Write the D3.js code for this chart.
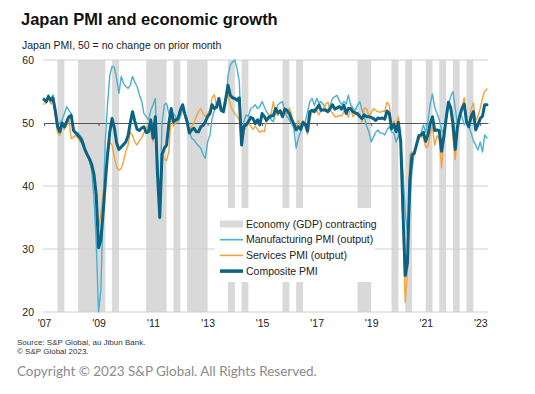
<!DOCTYPE html>
<html>
<head>
<meta charset="utf-8">
<script src="https://cdn.jsdelivr.net/npm/d3@7"></script>
<style>
  body { margin: 0; background: #fff; }
  svg text { font-family: "Liberation Sans", Arial, sans-serif; }
</style>
</head>
<body>
<div id="chart"></div>
<script>
// Monthly PMI readings, Jan 2007 .. Apr 2023
const startMonth = new Date(2007, 0, 1);

const composite = [
  53.7, 53.4, 54.2, 53.6, 54.0, 52.0, 49.5, 48.6, 50.0, 49.4, 50.2, 51.0,
  51.2, 48.8, 48.4, 48.0, 47.6, 46.9, 45.8, 45.0, 44.3, 43.4, 41.8, 38.5,
  30.2, 31.5, 35.5, 40.5, 45.0, 48.6, 50.7, 49.2, 46.8, 45.8, 46.2, 46.6,
  47.0, 48.0, 50.0, 51.8, 50.3, 49.0, 48.8, 49.2, 49.4, 48.5, 48.6, 50.5,
  47.6, 51.0, 42.0, 35.0, 45.0, 46.0, 46.5, 50.0, 52.3, 50.2, 50.5, 50.7,
  52.0, 52.9, 51.5, 50.2, 48.4, 48.9, 49.2, 48.6, 48.6, 49.4, 49.6, 50.2,
  51.0, 51.5, 52.9, 52.3, 52.5, 53.9, 52.0, 51.8, 53.9, 56.0, 54.4, 54.0,
  53.9, 53.6, 54.0, 46.5, 49.5, 49.7, 50.2, 50.9, 50.7, 49.9, 50.5, 49.7,
  51.5, 51.0, 50.4, 50.9, 51.1, 51.2, 52.3, 51.6, 51.9, 51.0, 52.2, 52.0,
  51.5, 50.5, 49.9, 48.9, 49.4, 49.0, 50.1, 49.8, 48.7, 51.8, 52.0, 51.8,
  52.3, 52.9, 52.0, 52.1, 52.0, 51.8, 52.3, 52.9, 52.2, 52.4, 52.6, 52.2,
  52.8, 51.5, 52.3, 52.3, 51.8, 51.6, 51.5, 51.0, 50.7, 51.3, 51.0, 51.0,
  50.9, 50.7, 50.4, 50.8, 50.7, 50.8, 50.6, 51.9, 51.5, 49.1, 49.8, 48.6,
  50.1, 47.0, 36.2, 25.8, 27.8, 40.8, 44.9, 45.2, 46.6, 48.0, 48.1, 48.5,
  47.1, 48.2, 49.9, 51.0, 48.8, 48.9, 48.8, 45.5, 47.9, 50.7, 53.3, 52.5,
  49.9, 45.8, 49.3, 51.1, 52.3, 53.0, 50.2, 49.4, 51.0, 51.8, 48.9, 49.7,
  50.7, 51.1, 52.9, 52.9
];

const services = [
  53.0, 53.2, 54.0, 53.0, 53.5, 51.0, 48.5, 48.0, 49.5, 49.0, 49.6, 50.5,
  47.5, 47.8, 48.0, 47.6, 47.0, 46.6, 45.5, 44.8, 44.0, 43.0, 41.5, 38.0,
  33.5, 35.5, 38.5, 41.5, 44.5, 47.0, 46.5, 44.5, 43.0, 42.5, 42.8, 43.9,
  45.5, 46.5, 48.6, 48.0, 47.0, 46.5, 47.2, 47.6, 48.5, 49.2, 49.7, 48.8,
  47.0, 50.5, 42.0, 35.5, 45.0, 44.3, 44.0, 45.5, 51.5, 49.5, 50.0, 50.5,
  51.5, 52.5, 51.0, 50.0, 49.0, 49.5, 50.0, 51.0, 51.8, 52.3, 51.5, 51.0,
  51.5, 52.0, 54.0, 54.5, 52.5, 53.5, 52.0, 52.0, 53.0, 54.7, 53.0, 52.0,
  51.5, 51.0, 50.5, 46.4, 48.5, 49.5, 50.0, 49.5, 49.0, 49.5, 49.0, 48.5,
  48.8, 48.6, 50.5, 51.3, 51.5, 53.4, 51.5, 51.2, 52.2, 51.0, 52.0, 51.5,
  52.4, 51.2, 50.0, 49.3, 50.4, 49.4, 50.4, 49.6, 48.2, 50.5, 51.8, 52.3,
  51.9, 51.3, 52.0, 52.2, 53.0, 53.3, 52.0, 51.6, 51.0, 51.0, 51.2, 51.1,
  51.9, 51.7, 50.9, 52.5, 51.0, 51.4, 51.3, 51.5, 50.2, 52.4, 52.3, 51.0,
  51.6, 52.3, 52.0, 51.8, 51.7, 51.9, 51.8, 53.3, 52.8, 49.7, 50.3, 49.4,
  51.0, 46.8, 33.8, 21.5, 26.5, 45.0, 45.4, 45.0, 46.9, 47.7, 47.8, 47.7,
  46.1, 46.3, 48.3, 49.5, 46.5, 48.0, 47.4, 42.9, 47.8, 50.7, 53.0, 52.1,
  47.6, 44.2, 49.4, 50.7, 52.6, 54.0, 50.3, 49.5, 52.2, 53.2, 50.3, 51.1,
  52.3, 54.0, 55.0, 55.4
];

const manufacturing = [
  54.0, 53.5, 54.5, 53.5, 54.5, 52.0, 49.5, 50.0, 50.5, 51.5, 52.6, 52.0,
  51.5, 49.0, 48.5, 48.5, 48.0, 47.5, 46.0, 45.0, 44.0, 42.5, 38.0, 31.0,
  20.0, 23.5, 36.0, 47.0, 53.0, 57.6, 59.0, 58.8, 57.0, 54.7, 57.4, 56.3,
  55.8, 55.5, 56.0, 57.4, 56.5, 55.8, 54.5, 53.5, 51.5, 51.0, 50.5, 52.0,
  52.9, 53.9, 44.0, 37.5, 50.0, 52.9, 53.1, 51.5, 50.7, 51.5, 51.0, 50.2,
  51.0, 52.0, 51.5, 50.7, 48.6, 47.6, 47.3, 46.8, 46.4, 46.0, 45.0, 44.4,
  47.0, 48.1, 50.7, 52.0, 52.9, 53.1, 52.3, 52.5, 52.9, 57.6, 59.2, 59.7,
  60.0, 58.5, 56.6, 47.6, 50.2, 51.3, 51.0, 52.3, 52.5, 52.9, 52.3, 52.6,
  53.4, 52.5, 51.8, 51.3, 50.5, 50.2, 51.8, 52.9, 53.2, 53.4, 51.8, 51.0,
  50.5, 49.8, 49.2, 46.0, 47.6, 48.6, 49.5, 50.2, 51.8, 53.4, 53.9, 52.8,
  53.9, 53.2, 53.4, 52.9, 52.3, 52.0, 52.8, 53.9, 54.2, 54.4, 53.5, 52.9,
  53.4, 53.0, 54.4, 52.9, 52.4, 52.0, 52.8, 53.4, 52.0, 51.0, 49.5, 48.6,
  47.0, 47.8, 48.5, 48.9, 48.4, 48.4, 48.1, 48.9, 49.4, 48.6, 48.4, 47.0,
  48.0, 47.0, 42.5, 36.0, 32.5, 37.0, 42.5, 45.5, 46.5, 47.5, 48.5, 49.7,
  48.5, 50.5, 53.0, 54.6, 52.5, 51.5, 50.5, 48.9, 48.1, 50.5, 52.9, 54.2,
  55.0, 52.3, 49.8, 51.5, 51.0, 49.7, 50.2, 49.4, 48.4, 47.2, 46.5, 45.7,
  47.0, 45.4, 48.1, 47.6
];

// quarters with contracting GDP: [first month, month after end]
const recessionStart = ["2007-07", "2008-04", "2009-07", "2010-10", "2011-10", "2012-04",
  "2013-10", "2014-04", "2015-10", "2016-04", "2018-07", "2019-10", "2020-04",
  "2021-01", "2021-07", "2022-01", "2022-07"];
const recessionEnd = ["2007-10", "2009-04", "2009-10", "2011-07", "2012-01", "2013-01",
  "2014-01", "2014-07", "2016-01", "2016-07", "2019-01", "2020-01", "2020-07",
  "2021-04", "2021-10", "2022-04", "2022-10"];

const yTicks = [20, 30, 40, 50, 60];
const xTickYears = [2007, 2009, 2011, 2013, 2015, 2017, 2019, 2021, 2023];

const seriesNames = ["Manufacturing PMI (output)", "Services PMI (output)", "Composite PMI"];
const seriesColors = ["#4aafd0", "#f2a33a", "#0b6384"];
const seriesWidths = [1.4, 1.4, 3];

const width = 535, height = 394;
const parseMonth = d3.timeParse("%Y-%m");

const svg = d3.select("#chart").append("svg")
  .attr("width", width)
  .attr("height", height);

const x = d3.scaleTime()
  .domain([new Date(2007, 0, 1), new Date(2023, 3, 15)])
  .range([44, 488]);
const y = d3.scaleLinear().domain([20, 60]).range([312, 60]);

const monthDate = i => d3.timeMonth.offset(startMonth, i);

// Title + subtitle
svg.append("text")
  .attr("x", 21).attr("y", 25)
  .attr("font-size", "16.5px").attr("font-weight", "bold").attr("fill", "#111")
  .text("Japan PMI and economic growth");
svg.append("text")
  .attr("x", 22).attr("y", 49)
  .attr("font-size", "10.5px").attr("fill", "#222")
  .text("Japan PMI, 50 = no change on prior month");

// recession bands
const bands = recessionStart.map((s, i) => ({ s: parseMonth(s), e: parseMonth(recessionEnd[i]) }));
svg.append("g").selectAll("rect").data(bands).join("rect")
  .attr("x", d => x(d.s))
  .attr("width", d => x(d.e) - x(d.s))
  .attr("y", y(60))
  .attr("height", y(20) - y(60))
  .attr("fill", "#d9d9d9");

// gridlines
svg.append("g").selectAll("line").data(yTicks.filter(v => v !== 50)).join("line")
  .attr("x1", 43).attr("x2", 488)
  .attr("y1", d => y(d)).attr("y2", d => y(d))
  .attr("stroke", "#d0d0d0").attr("stroke-width", 1);

// legend background (drawn before lines)
const legend = svg.append("g").attr("transform", "translate(215,208)");
legend.append("rect").attr("width", 160).attr("height", 74).attr("fill", "#fff");

// 50 line with small ticks
const midAxis = svg.append("g")
  .attr("transform", `translate(0,${y(50)})`)
  .call(d3.axisBottom(x)
    .tickValues(xTickYears.map(yr => new Date(yr, 0, 1)))
    .tickSize(3).tickSizeOuter(0).tickFormat(""));
midAxis.selectAll("path, line").attr("stroke", "#555");

// y axis labels
const yAxis = svg.append("g")
  .attr("transform", "translate(36,0)")
  .call(d3.axisLeft(y).tickValues(yTicks).tickSize(0).tickPadding(2));
yAxis.select(".domain").remove();
yAxis.selectAll("text")
  .attr("font-family", "'Liberation Sans', Arial, sans-serif")
  .attr("font-size", "10.5px").attr("fill", "#222");

// x axis labels
const xAxis = svg.append("g")
  .attr("transform", `translate(0,${y(20)})`)
  .call(d3.axisBottom(x)
    .tickValues(xTickYears.map(yr => new Date(yr, 0, 1)))
    .tickSize(0).tickPadding(8)
    .tickFormat(d => "'" + d3.timeFormat("%y")(d)));
xAxis.select(".domain").remove();
xAxis.selectAll("text")
  .attr("font-family", "'Liberation Sans', Arial, sans-serif")
  .attr("font-size", "10.5px").attr("fill", "#222");

// lines
const line = d3.line()
  .x((d, i) => x(monthDate(i)))
  .y(d => y(d));

[manufacturing, services, composite].forEach((vals, k) => {
  svg.append("path")
    .datum(vals)
    .attr("fill", "none")
    .attr("stroke", seriesColors[k])
    .attr("stroke-width", seriesWidths[k])
    .attr("stroke-linejoin", "round")
    .attr("stroke-linecap", "round")
    .attr("d", line);
});

// legend items
const legendG = svg.append("g").attr("transform", "translate(220,224)");
legendG.append("rect")
  .attr("x", 0).attr("y", -3.5).attr("width", 23).attr("height", 7)
  .attr("fill", "#d9d9d9");
legendG.append("text")
  .attr("x", 26).attr("y", 0).attr("dy", "0.35em")
  .attr("font-size", "10.5px").attr("fill", "#222")
  .text("Economy (GDP) contracting");
seriesNames.forEach((name, i) => {
  const g = legendG.append("g").attr("transform", `translate(0,${15.7 * (i + 1)})`);
  g.append("line").attr("x1", 0).attr("x2", 23)
    .attr("stroke", seriesColors[i]).attr("stroke-width", i === 2 ? 3.5 : 1.6);
  g.append("text").attr("x", 26).attr("y", 0).attr("dy", "0.35em")
    .attr("font-size", "10.5px").attr("fill", "#222")
    .text(name);
});

// footnotes
svg.append("text")
  .attr("x", 17).attr("y", 345)
  .attr("font-size", "8px").attr("fill", "#333")
  .text("Source: S&P Global, au Jibun Bank.");
svg.append("text")
  .attr("x", 17).attr("y", 353.5)
  .attr("font-size", "8px").attr("fill", "#333")
  .text("© S&P Global 2023.");

const copy = svg.append("text")
  .attr("x", 17).attr("y", 376)
  .attr("font-size", "14px").attr("fill", "#8a8a8a")
  .style("font-family", "Lato, 'Open Sans', sans-serif")
  .text("Copyright © 2023 S&P Global. All Rights Reserved.");
// fit the copyright line to the reference width
const w = copy.node().getComputedTextLength();
if (w > 0) copy.attr("font-size", (14 * 300 / w).toFixed(2) + "px");
</script>
</body>
</html>
